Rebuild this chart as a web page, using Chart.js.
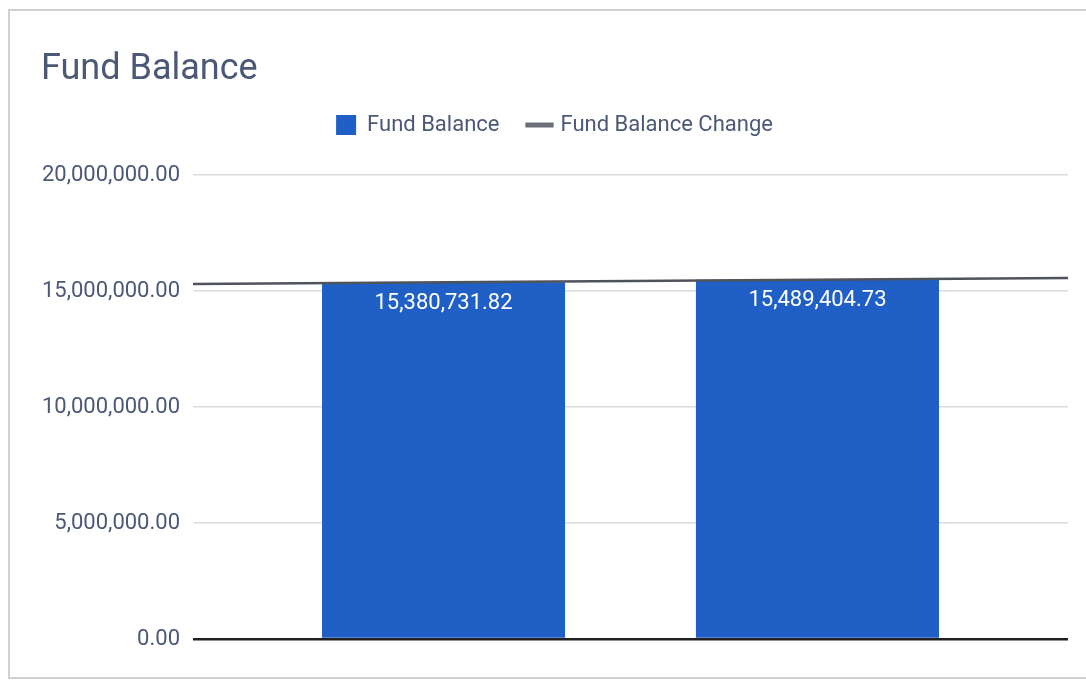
<!DOCTYPE html>
<html>
<head>
<meta charset="utf-8">
<title>Fund Balance</title>
<script src="https://cdn.jsdelivr.net/npm/chart.js@4.4.1/dist/chart.umd.min.js"></script>
<style>
  html, body { margin: 0; padding: 0; background: #fff; overflow: hidden; }
  #wrap { position: relative; width: 1086px; height: 682px; }
  #card { position: absolute; left: 8px; top: 9px; width: 1090px; height: 670px; border: 2px solid #d0d0d0; box-sizing: border-box; }
  #chart { position: absolute; left: 0; top: 0; }
</style>
</head>
<body>
<div id="wrap">
  <div id="card"></div>
  <canvas id="chart" width="1086" height="682"></canvas>
</div>
<script>
// chart data
const chartTitle = "Fund Balance";
const barName = "Fund Balance";
const lineName = "Fund Balance Change";
const barX = [1, 2];
const fundBalance = [15380731.82, 15489404.73];
const lineX = [0.33, 2.67];
const fundBalanceChange = [15300000, 15560000];
const yMin = 0, yMax = 20000000, yStep = 5000000;
const xMin = 0.33, xMax = 2.67;

const FONT = "Roboto, 'Noto Sans', sans-serif";
const TEXT = "#4b5876";
const fmt = (v) => Number(v).toLocaleString("en-US", { minimumFractionDigits: 2, maximumFractionDigits: 2 });

const pairs = (xs, ys) => xs.map((x, i) => ({ x, y: ys[i] }));

// push chart area a bit further below the legend
const legendGap = {
  id: "legendGap",
  beforeInit(chart) {
    const fit = chart.legend.fit;
    chart.legend.fit = function () {
      fit.bind(chart.legend)();
      this.height += 29;
    };
  },
};

// value labels inside the top of each bar
const barLabels = {
  id: "barLabels",
  afterDatasetsDraw(chart) {
    const ctx = chart.ctx;
    const meta = chart.getDatasetMeta(0);
    ctx.save();
    ctx.font = "22px " + FONT;
    ctx.fillStyle = "#ffffff";
    ctx.textAlign = "center";
    ctx.textBaseline = "middle";
    meta.data.forEach((bar, i) => {
      ctx.fillText(fmt(fundBalance[i]), bar.x, bar.y + 21);
    });
    ctx.restore();
  },
};

new Chart(document.getElementById("chart"), {
  data: {
    datasets: [
      {
        type: "bar",
        label: barName,
        data: pairs(barX, fundBalance),
        backgroundColor: "#1f5fc6",
        borderWidth: 0,
        barPercentage: 0.65,
        categoryPercentage: 1,
        order: 2,
      },
      {
        type: "line",
        label: lineName,
        data: pairs(lineX, fundBalanceChange),
        borderColor: "#4f535a",
        backgroundColor: "#4f535a",
        borderWidth: 2.5,
        pointRadius: 0,
        order: 1,
      },
    ],
  },
  options: {
    responsive: false,
    animation: false,
    layout: { padding: { left: 41, right: 18, top: 52, bottom: 43 } },
    scales: {
      x: {
        type: "linear",
        min: xMin,
        max: xMax,
        offset: false,
        display: false,
        ticks: { stepSize: 1, includeBounds: false },
      },
      y: {
        min: yMin,
        max: yMax,
        border: { display: false },
        grid: {
          drawTicks: false,
          color: (c) => (c.tick && c.tick.value === 0 ? "#202020" : "#dcdcdc"),
          lineWidth: (c) => (c.tick && c.tick.value === 0 ? 2.5 : 1.5),
        },
        ticks: {
          stepSize: yStep,
          padding: 13,
          color: TEXT,
          font: { family: FONT, size: 22 },
          callback: (v) => fmt(v),
        },
        afterFit: (s) => { s.width = 152; },
      },
    },
    plugins: {
      title: {
        display: true,
        text: chartTitle,
        align: "start",
        color: TEXT,
        font: { family: FONT, size: 36, weight: "normal", lineHeight: 1.0 },
        padding: { top: 0, bottom: -4 },
      },
      legend: {
        position: "top",
        labels: {
          usePointStyle: true,
          boxWidth: 20,
          boxHeight: 20,
          padding: 30,
          color: TEXT,
          font: { family: FONT, size: 22 },
          generateLabels(chart) {
            const items = Chart.defaults.plugins.legend.labels.generateLabels(chart);
            items.sort((a, b) => a.datasetIndex - b.datasetIndex);
            items.forEach((it) => {
              if (it.datasetIndex === 0) {
                it.pointStyle = "rect";
                it.lineWidth = 0;
              } else {
                it.pointStyle = "line";
                it.lineWidth = 5;
                it.strokeStyle = "#6b6f78";
              }
            });
            return items;
          },
        },
      },
      tooltip: { enabled: false },
    },
  },
  plugins: [legendGap, barLabels],
});
</script>
</body>
</html>
